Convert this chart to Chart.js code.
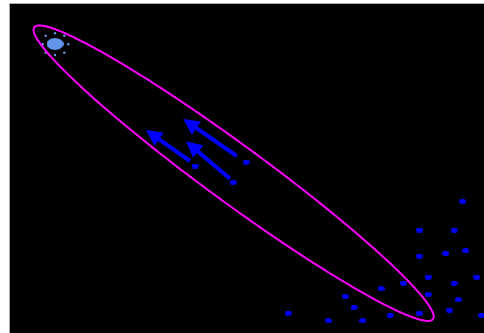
<!DOCTYPE html>
<html>
<head>
<meta charset="utf-8">
<script src="https://cdn.jsdelivr.net/npm/chart.js@4.4.1/dist/chart.umd.min.js"></script>
<style>
    html, body { margin: 0; padding: 0; background: #fff; }
    #wrap {
        position: absolute; left: 9px; top: 3px;
        width: 475px; height: 330px;
        border-left: 1px solid #aaa; border-top: 1px solid #aaa;
        box-sizing: border-box; background: #000;
    }
</style>
</head>
<body>
<div id="wrap"><canvas id="myChart"></canvas></div>
<script>
// scattered samples (blue)
const dotX = [452.7, 409.3, 444, 409.3, 435.7, 455.7, 418, 466.7, 444, 393.3, 371, 418, 448.3, 335.3, 344, 439.3, 409.3, 380, 278, 318.3, 352.7, 471.3, 185, 236, 223];
const dotY = [131.7, 103, 103, 77, 79.7, 82.3, 56, 56, 50, 50, 44.3, 38.7, 33.3, 36.7, 26, 23, 20, 18, 20, 12.3, 12.3, 18, 167, 171, 150.7];

// target point and its ring
const targetX = [45];
const targetY = [289];
const ringX = [45, 54.3, 58.3, 54.3, 45, 35.7, 32.7, 35.7];
const ringY = [299.7, 297.3, 288.7, 280.3, 278, 280.3, 288.7, 297.3];

// arrows: tail -> tip
const arrowFromX = [180, 226.7, 220];
const arrowFromY = [172, 177, 154.3];
const arrowToX = [136, 173.3, 176];
const arrowToY = [203, 214, 191.7];

// magenta ellipse: centre, semi axes, angle (deg)
const ellCenter = [223.6, 159.8];
const ellAxes = [247, 28.7];
const ellAngle = -36.2;

function sprite(w, h, color) {
    const c = document.createElement('canvas');
    c.width = w; c.height = h;
    const g = c.getContext('2d');
    g.fillStyle = color;
    g.beginPath();
    g.ellipse(w / 2, h / 2, w / 2, h / 2, 0, 0, Math.PI * 2);
    g.fill();
    return c;
}

const overlay = {
    id: 'overlay',
    afterDatasetsDraw(chart) {
        const ctx = chart.ctx;
        const xs = chart.scales.x, ys = chart.scales.y;
        ctx.save();
        // ellipse
        const a = ellAngle * Math.PI / 180;
        ctx.beginPath();
        for (let i = 0; i <= 360; i++) {
            const t = i * Math.PI / 180;
            const ex = ellAxes[0] * Math.cos(t), ey = ellAxes[1] * Math.sin(t);
            const px = xs.getPixelForValue(ellCenter[0] + ex * Math.cos(a) - ey * Math.sin(a));
            const py = ys.getPixelForValue(ellCenter[1] + ex * Math.sin(a) + ey * Math.cos(a));
            if (i === 0) ctx.moveTo(px, py); else ctx.lineTo(px, py);
        }
        ctx.closePath();
        ctx.strokeStyle = '#ff00ff';
        ctx.lineWidth = 2;
        ctx.stroke();
        // arrows
        ctx.fillStyle = '#0000ff';
        ctx.strokeStyle = '#0000ff';
        for (let i = 0; i < arrowFromX.length; i++) {
            const x0 = xs.getPixelForValue(arrowFromX[i]), y0 = ys.getPixelForValue(arrowFromY[i]);
            const x1 = xs.getPixelForValue(arrowToX[i]), y1 = ys.getPixelForValue(arrowToY[i]);
            const len = Math.hypot(x1 - x0, y1 - y0);
            const ux = (x1 - x0) / len, uy = (y1 - y0) / len;
            const hl = 16, hw = 8;
            const bx = x1 - ux * hl, by = y1 - uy * hl;
            ctx.lineWidth = 4;
            ctx.beginPath();
            ctx.moveTo(x0, y0);
            ctx.lineTo(bx + ux * 2, by + uy * 2);
            ctx.stroke();
            ctx.beginPath();
            ctx.moveTo(x1, y1);
            ctx.lineTo(bx - uy * hw, by + ux * hw);
            ctx.lineTo(bx + uy * hw, by - ux * hw);
            ctx.closePath();
            ctx.fill();
        }
        ctx.restore();
    }
};

const ctx = document.getElementById('myChart').getContext('2d');
new Chart(ctx, {
    type: 'scatter',
    data: {
        datasets: [{
            data: dotX.map((x, i) => ({ x: x, y: dotY[i] })),
            pointStyle: sprite(7, 5, '#0000ff')
        }, {
            data: ringX.map((x, i) => ({ x: x, y: ringY[i] })),
            pointRadius: 1.2,
            backgroundColor: '#6495ed',
            borderWidth: 0
        }, {
            data: targetX.map((x, i) => ({ x: x, y: targetY[i] })),
            pointStyle: sprite(17, 12, '#6495ed')
        }]
    },
    options: {
        responsive: true,
        maintainAspectRatio: false,
        animation: false,
        layout: { padding: 0, autoPadding: false },
        plugins: {
            legend: { display: false },
            tooltip: { enabled: false }
        },
        scales: {
            x: { display: false, min: 0, max: 474 },
            y: { display: false, min: 0, max: 329 }
        }
    },
    plugins: [overlay]
});
</script>
</body>
</html>
